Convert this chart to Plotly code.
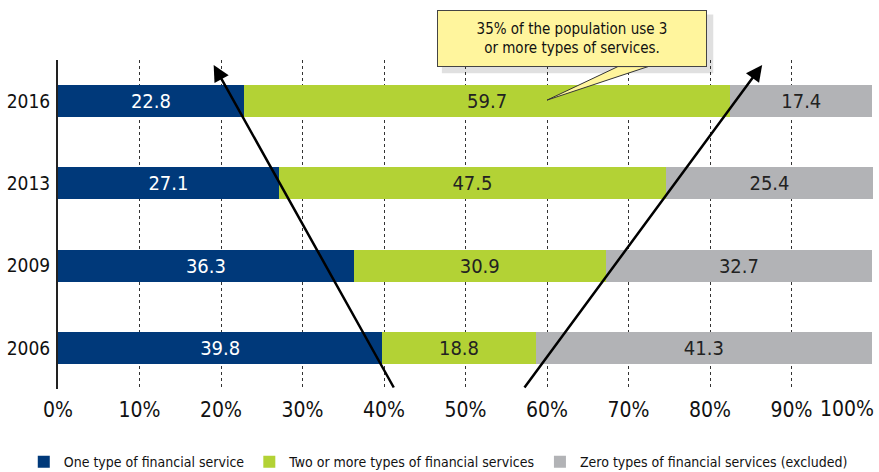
import plotly.graph_objects as go

# data
years = ["2006", "2009", "2013", "2016"]
one_type = [39.8, 36.3, 27.1, 22.8]
two_or_more = [18.8, 30.9, 47.5, 59.7]
zero_types = [41.3, 32.7, 25.4, 17.4]
series_names = ["One type of financial service",
                "Two or more types of financial services",
                "Zero types of financial services (excluded)"]
x_ticks = [0, 10, 20, 30, 40, 50, 60, 70, 80, 90, 100]

FONT = "Liberation Sans Narrow, Arial Narrow, DejaVu Sans Condensed, sans-serif"
colors = ["#00397A", "#B3D235", "#B2B3B6"]
text_colors = ["white", "#222222", "#222222"]

fig = go.Figure()
for name, vals, col, tcol in zip(series_names, [one_type, two_or_more, zero_types], colors, text_colors):
    fig.add_trace(go.Bar(
        y=years, x=vals, name=name, orientation="h",
        marker=dict(color=col, line=dict(width=0)),
        width=0.39,
        text=[f"{v:.1f}" for v in vals],
        textposition="inside", insidetextanchor="middle",
        constraintext="none", textangle=0,
        textfont=dict(color=tcol, size=20, family=FONT),
    ))

# arrows
arrow = dict(showarrow=True, text="", axref="x", ayref="y", xref="x", yref="y",
             arrowhead=2, arrowsize=1.3, arrowwidth=2.5, arrowcolor="black")
fig.add_annotation(x=19.1, y=3.44, ax=41.3, ay=-0.5, **arrow)
fig.add_annotation(x=86.4, y=3.44, ax=57.1, ay=-0.5, **arrow)

# callout shadow + pointer + box
fig.add_shape(type="rect", xref="x", yref="paper", x0=47.1, x1=80.4, y0=0.96, y1=1.138,
              fillcolor="rgba(0,0,0,0.12)", line=dict(width=0), layer="above")
fig.add_shape(type="path", xref="x", yref="paper",
              path="M 68.7,0.98 L 60.0,0.878 L 72.4,0.98 Z",
              fillcolor="#FFF59D", line=dict(color="#333333", width=1), layer="above")
fig.add_annotation(x=63.1, y=1.064, xref="x", yref="paper", showarrow=False,
                   xanchor="center", yanchor="middle",
                   text="35% of the population use 3<br>or more types of services.",
                   font=dict(size=15, color="#111111", family=FONT),
                   bgcolor="#FFF59D", bordercolor="#444444", borderwidth=1,
                   width=266, height=53, borderpad=1)

# 100% label shifted to fit
fig.add_annotation(x=100, y=0, xref="x", yref="paper", yanchor="top", xanchor="right",
                   xshift=3, yshift=-6, showarrow=False, text="100%",
                   font=dict(size=21, color="#111111", family=FONT))

fig.update_layout(
    barmode="stack",
    width=879, height=472,
    margin=dict(l=58, r=6, t=60, b=83, autoexpand=False),
    plot_bgcolor="white", paper_bgcolor="white",
    font=dict(family=FONT, color="#111111"),
    showlegend=True,
    legend=dict(orientation="h", x=-0.042, y=-0.222, xanchor="left", yanchor="middle",
                font=dict(size=14, family=FONT), traceorder="normal",
                itemwidth=30, tracegroupgap=0),
    xaxis=dict(range=[0, 100], tickvals=x_ticks,
               ticktext=[f"{t}%" if t < 100 else "" for t in x_ticks],
               showgrid=True, gridcolor="#333333", griddash="dot", gridwidth=1,
               zeroline=False, showline=False, ticks="", automargin=False,
               tickfont=dict(size=21, family=FONT), ticklabelstandoff=6),
    yaxis=dict(type="category", categoryorder="array", categoryarray=years,
               range=[-0.5, 3.5], showgrid=False, zeroline=False, automargin=False,
               showline=True, linecolor="#222222", linewidth=2, ticks="",
               tickfont=dict(size=19, family=FONT), ticklabelstandoff=2),
)

# drop the browser's default 8px body margin so the figure fills the window
fig.write_html("out.html", config={"displayModeBar": False},
               post_script="document.body.style.margin = '0px';")
